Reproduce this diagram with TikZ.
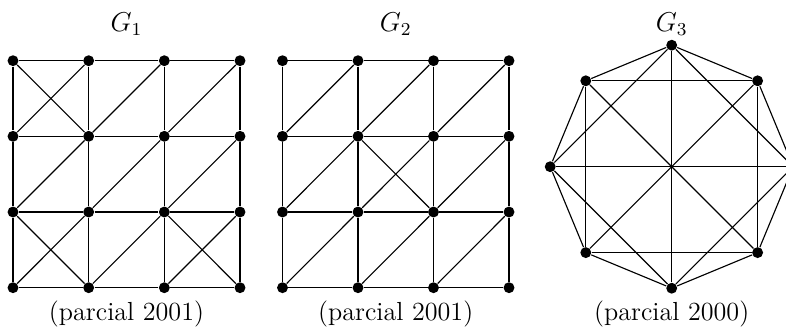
\documentclass[tikz,border=0pt]{standalone}
\begin{document}
\begin{tikzpicture}[x=0.44pt,y=-0.44pt,
  dot/.style={circle,fill=black,inner sep=0pt,minimum size=4.8pt},
  edge/.style={line width=0.5pt},
  lab/.style={font=\fontsize{11.5}{13}\selectfont,inner sep=0pt}]
\useasboundingbox (0,0) rectangle (786,330);
\clip (0,0) rectangle (786,330);
% G1 nodes
\foreach \i/\x in {0/13,1/88.67,2/164.33,3/240}
  \foreach \j/\y in {0/60.7,1/136.3,2/212,3/287.7}
    \node[dot] (a\i\j) at (\x,\y) {};
% G2 nodes
\foreach \i/\x in {0/282.5,1/358,2/433.5,3/509}
  \foreach \j/\y in {0/60.7,1/136.3,2/212,3/287.7}
    \node[dot] (b\i\j) at (\x,\y) {};
% grid edges
\foreach \g in {a,b}{
  \foreach \i/\k in {0/1,1/2,2/3}{
    \foreach \j in {0,1,2,3}{
      \draw[edge] (\g\i\j) -- (\g\k\j);
      \draw[edge] (\g\j\i) -- (\g\j\k);
    }
    \foreach \j/\l in {0/1,1/2,2/3}
      \draw[edge] (\g\i\l) -- (\g\k\j);
  }
}
\draw[edge] (a00) -- (a11);
\draw[edge] (a02) -- (a13);
\draw[edge] (a22) -- (a33);
\draw[edge] (b11) -- (b22);
% G3
\node[dot] (c0) at (793.2,166.7) {};
\node[dot] (c1) at (757.6,80.8) {};
\node[dot] (c2) at (671.7,45.2) {};
\node[dot] (c3) at (585.8,80.8) {};
\node[dot] (c4) at (550.2,166.7) {};
\node[dot] (c5) at (585.8,252.6) {};
\node[dot] (c6) at (671.7,288.2) {};
\node[dot] (c7) at (757.6,252.6) {};
\foreach \k in {0,...,7}{
  \pgfmathtruncatemacro{\m}{mod(\k+1,8)}
  \pgfmathtruncatemacro{\n}{mod(\k+2,8)}
  \draw[edge] (c\k) -- (c\m);
  \draw[edge] (c\k) -- (c\n);
}
\foreach \k in {0,...,3}{
  \pgfmathtruncatemacro{\m}{\k+4}
  \draw[edge] (c\k) -- (c\m);
}
% labels
\node[lab] (l1) at (126.5,24) {$G_1$};
\node[lab] (l2) at (395.7,24) {$G_2$};
\node[lab] (l3) at (671.7,24) {$G_3$};
\node[lab] (p1) at (126.5,314) {(parcial 2001)};
\node[lab] (p2) at (395.7,314) {(parcial 2001)};
\node[lab] (p3) at (671.7,314) {(parcial 2000)};
\end{tikzpicture}
\end{document}
